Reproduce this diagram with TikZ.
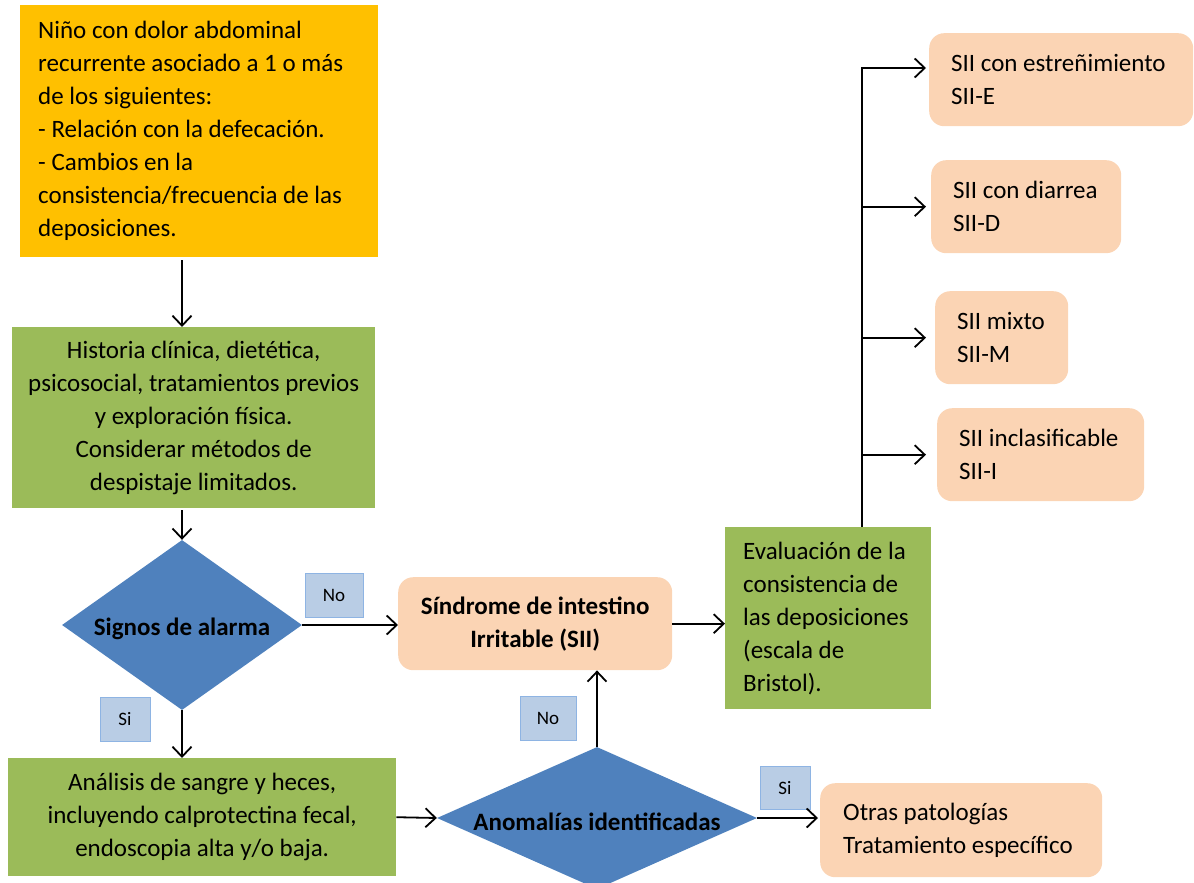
\documentclass[tikz,border=0pt]{standalone}
\usepackage{fontspec}
\setmainfont{Carlito}
\usetikzlibrary{arrows.meta,shapes.geometric,calc}
\definecolor{cOrange}{HTML}{FFC000}
\definecolor{cGreen}{HTML}{9BBB59}
\definecolor{cBlue}{HTML}{4F81BD}
\definecolor{cPeach}{HTML}{FBD4B4}
\definecolor{cLab}{HTML}{B9CDE5}
\definecolor{cLabB}{HTML}{8EB4E3}
\newcommand{\oneline}[1]{\mbox{#1}}
\tikzset{
  box/.style={rectangle, anchor=north west, inner sep=0pt, font=\fontsize{25}{33}\selectfont},
  lbox/.style={box, align=flush left},
  obox/.style={lbox, fill=cOrange},
  gbox/.style={box, fill=cGreen, align=center},
  glbox/.style={lbox, fill=cGreen},
  pbox/.style={lbox, fill=cPeach, rounded corners=15pt},
  dia/.style={diamond, fill=cBlue, inner sep=0pt},
  dtext/.style={font=\fontsize{25}{30}\bfseries\selectfont, yshift=-4pt},
  lab/.style={rectangle, fill=cLab, draw=cLabB, line width=1pt, inner sep=0pt, font=\fontsize{19}{22}\selectfont},
  arr/.style={line width=1.8pt, -{Straight Barb[length=10pt,width=19pt,line width=1.8pt]}},
  ln/.style={line width=1.8pt}
}
\begin{document}
\begin{tikzpicture}[x=1pt,y=-1pt]
\useasboundingbox (0,0) rectangle (1194,883);
\clip (0,0) rectangle (1194,883);
% boxes
\node[obox, minimum width=358pt, minimum height=252pt, text width=322pt] (top) at (20,5)
 {\oneline{Niño con dolor abdominal}\\\oneline{recurrente asociado a 1 o más}\\\oneline{de los siguientes:}\\\oneline{- Relación con la defecación.}\\\oneline{- Cambios en la}\\\oneline{consistencia/frecuencia de las}\\\oneline{deposiciones.}};
\node[gbox, minimum width=363pt, minimum height=181pt] (g1) at (12,327)
 {Historia clínica, dietética,\\psicosocial, tratamientos previos\\y exploración física.\\Considerar métodos de\\despistaje limitados.};
\node[dia, minimum width=240pt, minimum height=170pt,
  label={[dtext]center:Signos de alarma}] (d1) at (182,625) {};
\node[gbox, minimum width=388pt, minimum height=118pt] (g3) at (8,758)
 {Análisis de sangre y heces,\\incluyendo calprotectina fecal,\\endoscopia alta y/o baja.};
\node[dia, minimum width=320pt, minimum height=142pt,
  label={[dtext]center:Anomalías identificadas}] (d2) at (597,818) {};
\node[box, fill=cPeach, rounded corners=15pt, minimum width=274pt, minimum height=93pt, align=center, font=\fontsize{25}{33}\bfseries\selectfont] (sii) at (398,577)
 {Síndrome de intestino\\Irritable (SII)};
\node[glbox, minimum width=206pt, minimum height=182pt, text width=170pt] (ev) at (725,527)
 {\oneline{Evaluación de la}\\\oneline{consistencia de}\\\oneline{las deposiciones}\\\oneline{(escala de}\\\oneline{Bristol).}};
\node[pbox, minimum width=282pt, minimum height=94pt, text width=236pt] (ot) at (820,783)
 {\oneline{Otras patologías}\\\oneline{Tratamiento específico}};
\node[pbox, minimum width=264pt, minimum height=93pt, text width=220pt] (se) at (929,33)
 {\oneline{SII con estreñimiento}\\SII-E};
\node[pbox, minimum width=190pt, minimum height=93pt, text width=146pt] (sd) at (931,160)
 {\oneline{SII con diarrea}\\SII-D};
\node[pbox, minimum width=133pt, minimum height=93pt, text width=89pt] (sm) at (935,291)
 {\oneline{SII mixto}\\SII-M};
\node[pbox, minimum width=207pt, minimum height=93pt, text width=163pt] (si) at (937,408)
 {\oneline{SII inclasificable}\\SII-I};
% labels
\node[lab, minimum width=58pt, minimum height=44pt] (no1) at (334,595) {No};
\node[lab, minimum width=50pt, minimum height=44pt] (si1) at (125,719) {Si};
\node[lab, minimum width=56pt, minimum height=44pt] (no2) at (548,718) {No};
\node[lab, minimum width=50pt, minimum height=43pt] (si2) at (785,788) {Si};
% connectors
\draw[arr] ([yshift=-3pt]top.south -| d1.north) -- (g1.north -| d1.north);
\draw[arr] ([yshift=-2pt]g1.south -| d1.north) -- (d1.north);
\draw[arr] (d1.south) -- (g3.north -| d1.south);
\draw[arr] (d1.east) -- (sii.west |- d1.east);
\draw[arr] (sii.east) -- (ev.west |- sii.east);
\draw[arr] (g3.east) -- (d2.west);
\draw[arr] (d2.north) -- (sii.south -| d2.north);
\draw[arr] (d2.east) -- ([xshift=-2pt]ot.west |- d2.east);
\coordinate (trunk) at (862,68);
\coordinate (tip) at (926,0);
\draw[ln] (ev.north -| trunk) -- (trunk);
\draw[arr] ([xshift=-0.9pt]trunk) -- (trunk -| tip);
\draw[arr] (trunk |- sd.west) -- (tip |- sd.west);
\draw[arr] (trunk |- sm.west) -- (tip |- sm.west);
\draw[arr] (trunk |- si.west) -- (tip |- si.west);
\end{tikzpicture}
\end{document}
